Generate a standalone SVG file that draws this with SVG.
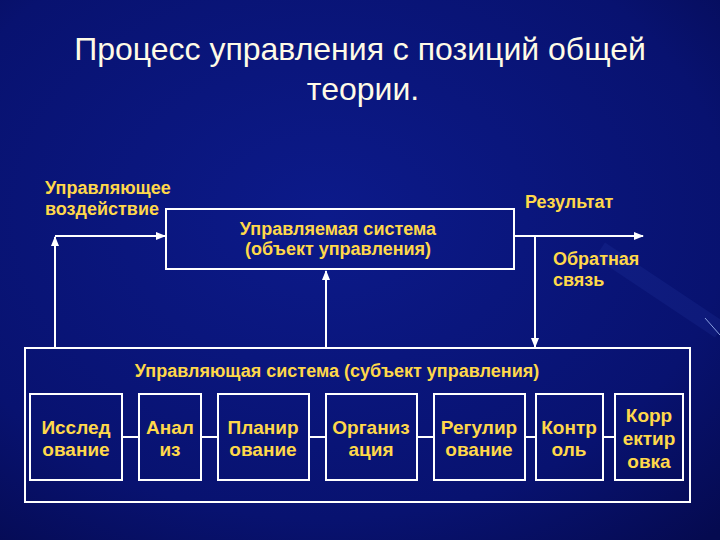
<svg xmlns="http://www.w3.org/2000/svg" width="720" height="540" viewBox="0 0 720 540">
<defs>
<radialGradient id="bg" cx="0.45" cy="0.4" r="0.8">
<stop offset="0" stop-color="#0c1a8a"/>
<stop offset="0.7" stop-color="#081270"/>
<stop offset="1" stop-color="#050a50"/>
</radialGradient>
<marker id="ah" viewBox="0 0 10 10" refX="9" refY="5" markerWidth="5" markerHeight="5" orient="auto"><path d="M0,1 L10,5 L0,9 z" fill="#fff"/></marker>
<style>
.box{fill:none;stroke:#fff;stroke-width:2}
.ln{fill:none;stroke:#fff;stroke-width:2}
.lb{font-family:"Liberation Sans",Arial,sans-serif;font-weight:bold;fill:#ffd84a;font-size:18px}
.bt{font-family:"Liberation Sans",Arial,sans-serif;font-weight:bold;fill:#ffd84a;font-size:19px;text-anchor:middle}
.ti{font-family:"Liberation Sans",Arial,sans-serif;fill:#fffbe6;font-size:32px;text-anchor:middle}
</style>
</defs>
<rect width="720" height="540" fill="url(#bg)"/>
<path d="M600,250 L720,330" stroke="#3a56c8" stroke-width="18" opacity="0.12"/>
<line x1="705" y1="318" x2="720" y2="335" stroke="#8aa0e0" stroke-width="1"/>
<text class="ti" x="360" y="60">Процесс управления с позиций общей</text>
<text class="ti" x="363" y="100">теории.</text>
<text class="lb" x="45" y="194">Управляющее</text>
<text class="lb" x="45" y="215">воздействие</text>
<text class="lb" x="525" y="208">Результат</text>
<text class="lb" x="553" y="265">Обратная</text>
<text class="lb" x="553" y="286">связь</text>
<g id="connectors">
<path class="ln" d="M55,236 H165" marker-end="url(#ah)"/>
<path class="ln" d="M55,347 V237" marker-end="url(#ah)"/>
<path class="ln" d="M326,347 V271" marker-end="url(#ah)"/>
<path class="ln" d="M513,236 H643" marker-end="url(#ah)"/>
<path class="ln" d="M535,236 V347" marker-end="url(#ah)"/>
<path class="ln" d="M122,437 H139 M201,437 H218 M309,437 H326 M417,437 H434 M525,437 H536 M603,437 H615"/>
</g>
<g id="managed"><rect class="box" x="166" y="209" width="348" height="60"/>
<text class="lb" x="338" y="235" text-anchor="middle">Управляемая система</text>
<text class="lb" x="338" y="255" text-anchor="middle">(объект управления)</text></g>
<g id="control"><rect class="box" x="25" y="348" width="665" height="154"/>
<text class="lb" x="337" y="377" text-anchor="middle">Управляющая система (субъект управления)</text></g>
<g id="n1"><rect class="box" x="30" y="394" width="92" height="86"/><text class="bt" x="76" y="434">Исслед</text><text class="bt" x="76" y="456">ование</text></g>
<g id="n2"><rect class="box" x="139" y="394" width="62" height="86"/><text class="bt" x="170" y="434">Анал</text><text class="bt" x="170" y="456">из</text></g>
<g id="n3"><rect class="box" x="218" y="394" width="91" height="86"/><text class="bt" x="263" y="434">Планир</text><text class="bt" x="263" y="456">ование</text></g>
<g id="n4"><rect class="box" x="326" y="394" width="91" height="86"/><text class="bt" x="371" y="434">Организ</text><text class="bt" x="371" y="456">ация</text></g>
<g id="n5"><rect class="box" x="434" y="394" width="91" height="86"/><text class="bt" x="479" y="434">Регулир</text><text class="bt" x="479" y="456">ование</text></g>
<g id="n6"><rect class="box" x="536" y="394" width="67" height="86"/><text class="bt" x="569" y="434">Контр</text><text class="bt" x="569" y="456">оль</text></g>
<g id="n7"><rect class="box" x="615" y="394" width="68" height="86"/><text class="bt" x="649" y="422">Корр</text><text class="bt" x="649" y="445">ектир</text><text class="bt" x="649" y="468">овка</text></g>
</svg>
